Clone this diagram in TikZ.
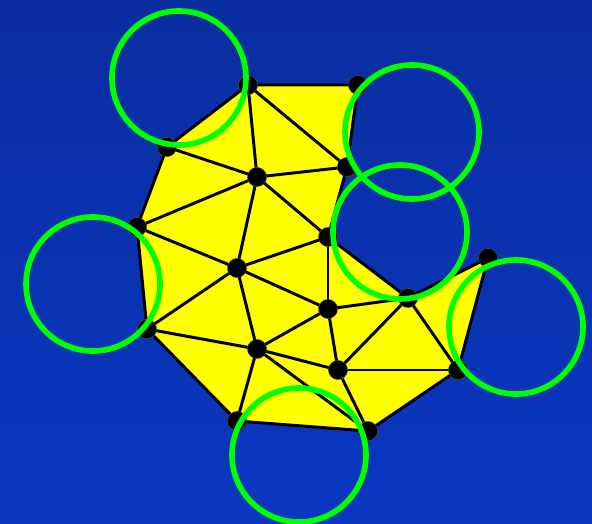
\documentclass[tikz,border=0pt]{standalone}
\usepackage{tikz}
\definecolor{bgtop}{HTML}{0A2EA0}
\definecolor{bgbot}{HTML}{0A37C2}
\definecolor{ringgreen}{HTML}{00FF00}
\definecolor{regionyellow}{HTML}{FFFF00}
\tikzset{
  vert/.style={circle,fill=black,draw=black!75!yellow,line width=0.3pt,inner sep=0pt,minimum size=0.48cm},
  edge/.style={line width=2.1pt,draw=black},
  ring/.style={line width=4pt,draw=ringgreen}
}
\begin{document}
\begin{tikzpicture}[x=0.025cm,y=-0.025cm]
\shade[top color=bgtop,bottom color=bgbot] (0,0) rectangle (592,524);
\useasboundingbox (0,0) rectangle (592,524);
% vertices
\coordinate (a) at (248,85);
\coordinate (b) at (358,85);
\coordinate (c) at (167,147);
\coordinate (d) at (347,167);
\coordinate (e) at (257,177);
\coordinate (f) at (137,227);
\coordinate (g) at (328,237);
\coordinate (h) at (237,268);
\coordinate (i) at (488,258);
\coordinate (j) at (408,298);
\coordinate (k) at (328,309);
\coordinate (l) at (147,329);
\coordinate (m) at (257,349);
\coordinate (n) at (338,370);
\coordinate (o) at (458,370);
\coordinate (p) at (237,421);
\coordinate (q) at (368,431);
% region
\filldraw[fill=regionyellow,edge,line join=round] (a)--(b)--(d)--(g)--(j)--(i)--(o)--(q)--(p)--(l)--(f)--(c)--cycle;
% triangulation
\foreach \u/\v in {a/e,a/d,c/e,e/d,e/f,e/g,e/h,f/h,h/g,h/k,h/l,h/m,g/k,k/j,k/m,k/n,l/m,m/n,m/p,m/q,n/j,n/o,n/q,j/o}
  \draw[edge] (\u)--(\v);
\foreach \v in {a,b,c,d,e,f,g,h,i,j,k,l,m,n,o,p,q}
  \node[vert] (n\v) at (\v) {};
% empty circles
\draw[ring] (179,78) circle (67);
\draw[ring] (412,132) circle (67);
\draw[ring] (400,232) circle (67);
\draw[ring] (93,284) circle (67);
\draw[ring] (516,327) circle (67);
\draw[ring] (299,455) circle (67);
\end{tikzpicture}
\end{document}
